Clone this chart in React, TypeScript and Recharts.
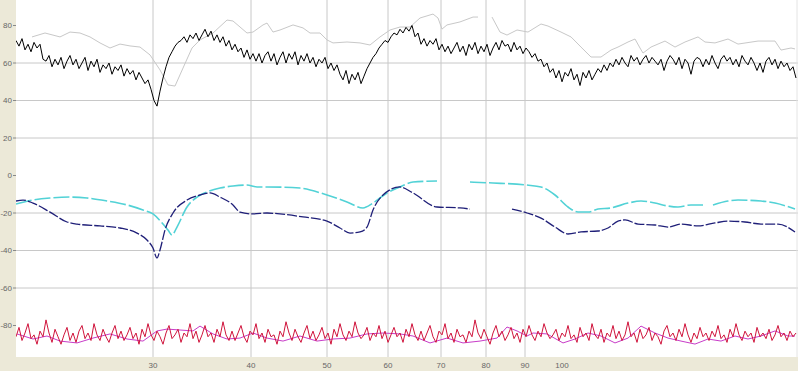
import React from 'react';
import {
  LineChart,
  Line,
  XAxis,
  YAxis,
  CartesianGrid,
  ReferenceLine,
} from 'recharts';

// ─── Data ─────────────────────────────────────────────────────────────────────

// x axis: sample index, labelled at irregular positions
const xTickSamples = [137, 235, 311, 372, 425, 470, 509, 546];
const xTickLabels = ['30', '40', '50', '60', '70', '80', '90', '100'];
const xGridSamples = [137, 235, 311, 372, 425, 470, 509];

const yTicks = [80, 60, 40, 20, 0, -20, -40, -60, -80];
const yGridValues = [60, 40, 20, -20, -40, -60];

// noisy series sampled every 3 samples
const NOISY_STEP = 3;

const blackValues = [
  72, 69, 73, 67, 70, 66, 71, 68, 70, 62,
  61, 64, 58, 62, 59, 63, 57, 61, 64, 59,
  62, 57, 60, 63, 56, 61, 58, 62, 55, 59,
  57, 60, 54, 58, 56, 59, 53, 57, 54, 56,
  51, 55, 52, 49, 51, 46, 40, 37, 45, 52,
  58, 63, 66, 69, 71, 72, 74, 71, 75, 73,
  76, 72, 75, 78, 74, 77, 72, 75, 71, 74,
  69, 72, 67, 70, 66, 68, 63, 67, 62, 65,
  61, 65, 60, 64, 66, 61, 65, 59, 63, 66,
  60, 65, 62, 66, 59, 64, 61, 65, 60, 63,
  58, 62, 60, 63, 57, 60, 56, 59, 54, 51,
  56, 49, 54, 51, 55, 49, 53, 57, 60, 63,
  65, 68, 70, 72, 71, 74, 76, 75, 78, 76,
  79, 77, 80, 74, 76, 70, 73, 69, 72, 70,
  73, 67, 70, 66, 69, 65, 68, 71, 66, 69,
  64, 70, 67, 71, 65, 69, 66, 70, 64, 68,
  71, 67, 72, 69, 70, 66, 71, 67, 69, 65,
  68, 66, 63, 65, 61, 62, 58, 60, 55, 57,
  52, 56, 50, 55, 53, 57, 51, 54, 48, 55,
  52, 56, 51, 54, 57, 55, 59, 56, 60, 58,
  62, 59, 63, 60, 58, 64, 61, 63, 59, 62,
  64, 60, 63, 61, 59, 62, 56, 61, 64, 62,
  59, 63, 57, 62, 60, 54, 61, 63, 62, 58,
  62, 59, 64, 60, 57, 62, 64, 61, 63, 59,
  62, 58, 64, 61, 59, 63, 60, 56, 60, 55,
  61, 63, 59, 62, 57, 61, 58, 60, 56, 58,
  52,
];

const redValues = [
  -86, -81, -88, -84, -79, -87, -85, -90, -83, -86,
  -77, -84, -89, -82, -86, -90, -85, -81, -88, -84,
  -89, -83, -80, -87, -84, -88, -79, -85, -88, -82,
  -86, -89, -84, -80, -87, -83, -88, -85, -81, -87,
  -84, -90, -82, -86, -79, -85, -88, -83, -86, -90,
  -84, -80, -87, -85, -82, -89, -84, -86, -79, -87,
  -83, -89, -85, -80, -86, -84, -89, -82, -86, -78,
  -85, -88, -83, -88, -84, -80, -86, -89, -83, -85,
  -79, -87, -84, -89, -82, -86, -85, -90, -83, -86,
  -78, -84, -88, -82, -86, -89, -84, -80, -87, -83,
  -88, -85, -81, -87, -84, -90, -82, -86, -79, -85,
  -88, -83, -86, -78, -84, -87, -85, -81, -88, -84,
  -86, -80, -87, -83, -89, -85, -81, -86, -84, -89,
  -82, -86, -79, -85, -88, -83, -88, -84, -80, -86,
  -89, -83, -85, -79, -87, -84, -89, -82, -86, -85,
  -89, -83, -86, -77, -84, -87, -82, -86, -90, -84,
  -80, -86, -83, -88, -85, -81, -87, -84, -89, -82,
  -86, -80, -85, -88, -83, -86, -79, -84, -87, -85,
  -82, -88, -84, -86, -80, -87, -85, -89, -81, -86,
  -84, -88, -79, -85, -87, -82, -89, -84, -86, -80,
  -87, -83, -88, -85, -78, -86, -84, -89, -82, -87,
  -85, -81, -88, -84, -86, -90, -83, -80, -86, -84,
  -88, -82, -86, -79, -85, -89, -84, -87, -81, -86,
  -84, -88, -83, -86, -80, -87, -85, -89, -82, -86,
  -79, -85, -88, -83, -86, -84, -89, -81, -86, -84,
  -87, -82, -88, -85, -80, -86, -84, -88, -83, -86,
  -84,
];

// smoother series: [sample, value], null = gap
const grayPoints: [number, number | null][] = [
  [16, 73.9], [29, 76], [44, 73.9], [54, 76.5], [64, 76], [74, 73.9], [84, 70.7],
  [94, 68], [104, 70.1], [114, 69.1], [124, 68.5], [134, 64.3], [144, 56.3],
  [152, 48.3], [159, 47.7], [167, 57.3], [176, 68], [184, 72.3], [197, 76],
  [211, 82.9], [217, 82.4], [231, 76], [237, 76.5], [247, 80.3], [251, 81.3],
  [257, 76.5], [264, 77.6], [277, 80.3], [287, 78.7], [294, 76], [304, 76],
  [311, 72.3], [317, 70.7], [331, 71.2], [344, 70.7], [354, 69.6], [364, 73.9],
  [374, 77.6], [384, 79.2], [394, 79.2], [404, 84], [417, 86.1], [422, 84],
  [426, 78.1], [431, 80.3], [444, 81.9], [457, 84.5], [462, 84.5], [469, null],
  [476, 84.5], [484, 76.5], [491, 74.9], [501, 77.6], [512, 76.5], [525, 80.8],
  [532, 79.7], [545, 76.5], [555, 73.9], [565, 68.5], [575, 63.2], [585, 63.2],
  [595, 66.9], [602, 68.5], [612, 71.2], [619, 72.8], [624, 68], [627, 65.3],
  [635, 68.5], [649, 71.7], [659, 68.5], [669, 71.2], [682, 73.9], [689, 71.2],
  [699, 70.7], [712, 72.8], [722, 70.1], [742, 71.7], [759, 71.7], [765, 66.9],
  [775, 68], [779, 67.5],
];

const cyanPoints: [number, number | null][] = [
  [0, -15.2], [17, -13.1], [34, -12], [54, -11.5], [71, -12], [91, -13.6],
  [111, -15.7], [127, -18.4], [137, -20.5], [147, -25.9], [152, -29.1],
  [156, -31.7], [161, -27.5], [171, -16.8], [181, -11.5], [191, -8.8],
  [204, -6.7], [217, -5.6], [231, -5.1], [241, -6.1], [251, -6.1], [284, -6.7],
  [311, -10.4], [331, -14.1], [347, -17.3], [357, -14.7], [371, -9.3],
  [384, -6.1], [397, -3.5], [421, -2.9], [437, null], [454, -3.5], [477, -4],
  [511, -5.1], [525, -6.1], [539, -10.4], [552, -16.8], [562, -19.5],
  [572, -19.5], [582, -17.9], [595, -17.3], [612, -14.7], [625, -13.6],
  [639, -14.7], [652, -16.3], [662, -16.8], [675, -15.7], [687, -15.7],
  [692, null], [697, -15.7], [712, -13.6], [722, -13.1], [745, -13.6],
  [759, -14.7], [779, -17.9],
];

const bluePoints: [number, number | null][] = [
  [0, -13.6], [7, -13.1], [17, -14.7], [34, -19.5], [51, -24.8], [61, -25.9],
  [84, -26.9], [104, -28], [121, -30.7], [131, -34.4], [137, -38.7], [141, -44],
  [144, -39.7], [149, -29.1], [157, -20], [171, -13.1], [184, -10.4],
  [194, -9.3], [204, -11.5], [217, -15.7], [224, -19.5], [237, -20.5],
  [251, -20], [264, -20.5], [287, -22.1], [311, -24.3], [324, -28], [334, -30.7],
  [344, -30.1], [351, -27.5], [357, -18.4], [367, -10.4], [384, -6.1],
  [397, -9.3], [421, -16.8], [444, -17.3], [454, -17.9], [475, null],
  [496, -17.9], [511, -20], [525, -22.7], [539, -27.5], [552, -31.2],
  [565, -30.1], [582, -29.6], [592, -28], [602, -24.3], [609, -23.7],
  [622, -25.9], [639, -26.4], [652, -27.5], [665, -25.9], [682, -26.9],
  [699, -25.3], [712, -24.3], [729, -24.8], [745, -25.9], [762, -25.9],
  [779, -30.1],
];

const magentaPoints: [number, number | null][] = [
  [1, -84.5], [17, -87.2], [31, -85.6], [44, -88.3], [61, -89.3], [77, -86.7],
  [94, -84.5], [111, -87.2], [127, -88.3], [141, -82.9], [151, -81.9],
  [164, -82.4], [177, -82.9], [184, -80.3], [197, -84.5], [211, -87.2],
  [224, -86.7], [237, -84], [251, -86.7], [267, -88.3], [284, -85.6],
  [301, -88.3], [317, -87.2], [334, -86.7], [351, -84.5], [367, -84],
  [384, -84.5], [397, -85.6], [414, -89.3], [431, -86.7], [447, -89.3],
  [464, -88.3], [481, -86.7], [491, -80.8], [501, -82.9], [511, -85.6],
  [517, -84], [531, -84.5], [547, -89.3], [559, -87.2], [572, -84],
  [585, -85.6], [599, -89.3], [612, -86.7], [625, -80.3], [639, -84],
  [652, -86.7], [665, -88.3], [679, -89.9], [692, -87.2], [705, -88.3],
  [719, -85.6], [732, -87.2], [745, -85.6], [759, -82.9], [772, -85.6],
  [779, -85.6],
];

// ─── Helpers ──────────────────────────────────────────────────────────────────

const toRows = (pts: [number, number | null][]) => pts.map(([x, y]) => ({ x, y }));
const noisyRows = (vals: number[]) => vals.map((y, i) => ({ x: i * NOISY_STEP, y }));

const fmtX = (v: number) => {
  const i = xTickSamples.indexOf(v);
  return i >= 0 ? xTickLabels[i] : '';
};

const GRID = '#c8c8c8';
const TICK_STYLE = { fill: '#666', fontSize: 8, fontFamily: "'Liberation Sans', Arial, sans-serif" };

// ─── Component ────────────────────────────────────────────────────────────────

export default function App() {
  return (
    <div style={{ position: 'fixed', left: 0, top: 0, width: 798, height: 371, background: '#ECE9D8' }}>
      <LineChart width={798} height={371} margin={{ top: 0, right: 0, left: 0, bottom: 0 }}>
        <CartesianGrid horizontal={false} vertical={false} fill="#fff" stroke="none" />
        <XAxis
          type="number"
          dataKey="x"
          domain={[0, 782]}
          ticks={xTickSamples}
          tickFormatter={fmtX}
          tick={TICK_STYLE}
          axisLine={false}
          tickLine={false}
          height={14}
          tickMargin={-1}
          interval={0}
          allowDataOverflow
        />
        <YAxis
          type="number"
          domain={[-96.8, 93.6]}
          ticks={yTicks}
          tick={TICK_STYLE}
          axisLine={false}
          tickLine={{ stroke: '#888' }}
          tickSize={3}
          tickMargin={1}
          width={16}
          interval={0}
          allowDataOverflow
        />
        {yGridValues.map((v) => (
          <ReferenceLine key={'h' + v} y={v} stroke={GRID} strokeWidth={1} />
        ))}
        {xGridSamples.map((v) => (
          <ReferenceLine key={'v' + v} x={v} stroke={GRID} strokeWidth={1} />
        ))}
        <ReferenceLine x={781} stroke="#e4e4e4" />
        <Line data={toRows(grayPoints)} dataKey="y" stroke="#c8c8c8" strokeWidth={1} dot={false} isAnimationActive={false} />
        <Line data={noisyRows(blackValues)} dataKey="y" stroke="#000" strokeWidth={1} dot={false} isAnimationActive={false} />
        <Line data={toRows(cyanPoints)} dataKey="y" type="monotone" stroke="#52d2d6" strokeWidth={1.6} strokeDasharray="16 3" dot={false} isAnimationActive={false} />
        <Line data={toRows(bluePoints)} dataKey="y" type="monotone" stroke="#1f1f78" strokeWidth={1.3} strokeDasharray="10 2" dot={false} isAnimationActive={false} />
        <Line data={toRows(magentaPoints)} dataKey="y" stroke="#c83cc8" strokeWidth={1} dot={false} isAnimationActive={false} />
        <Line data={noisyRows(redValues)} dataKey="y" stroke="#d0143c" strokeWidth={1} dot={false} isAnimationActive={false} />
      </LineChart>
    </div>
  );
}
